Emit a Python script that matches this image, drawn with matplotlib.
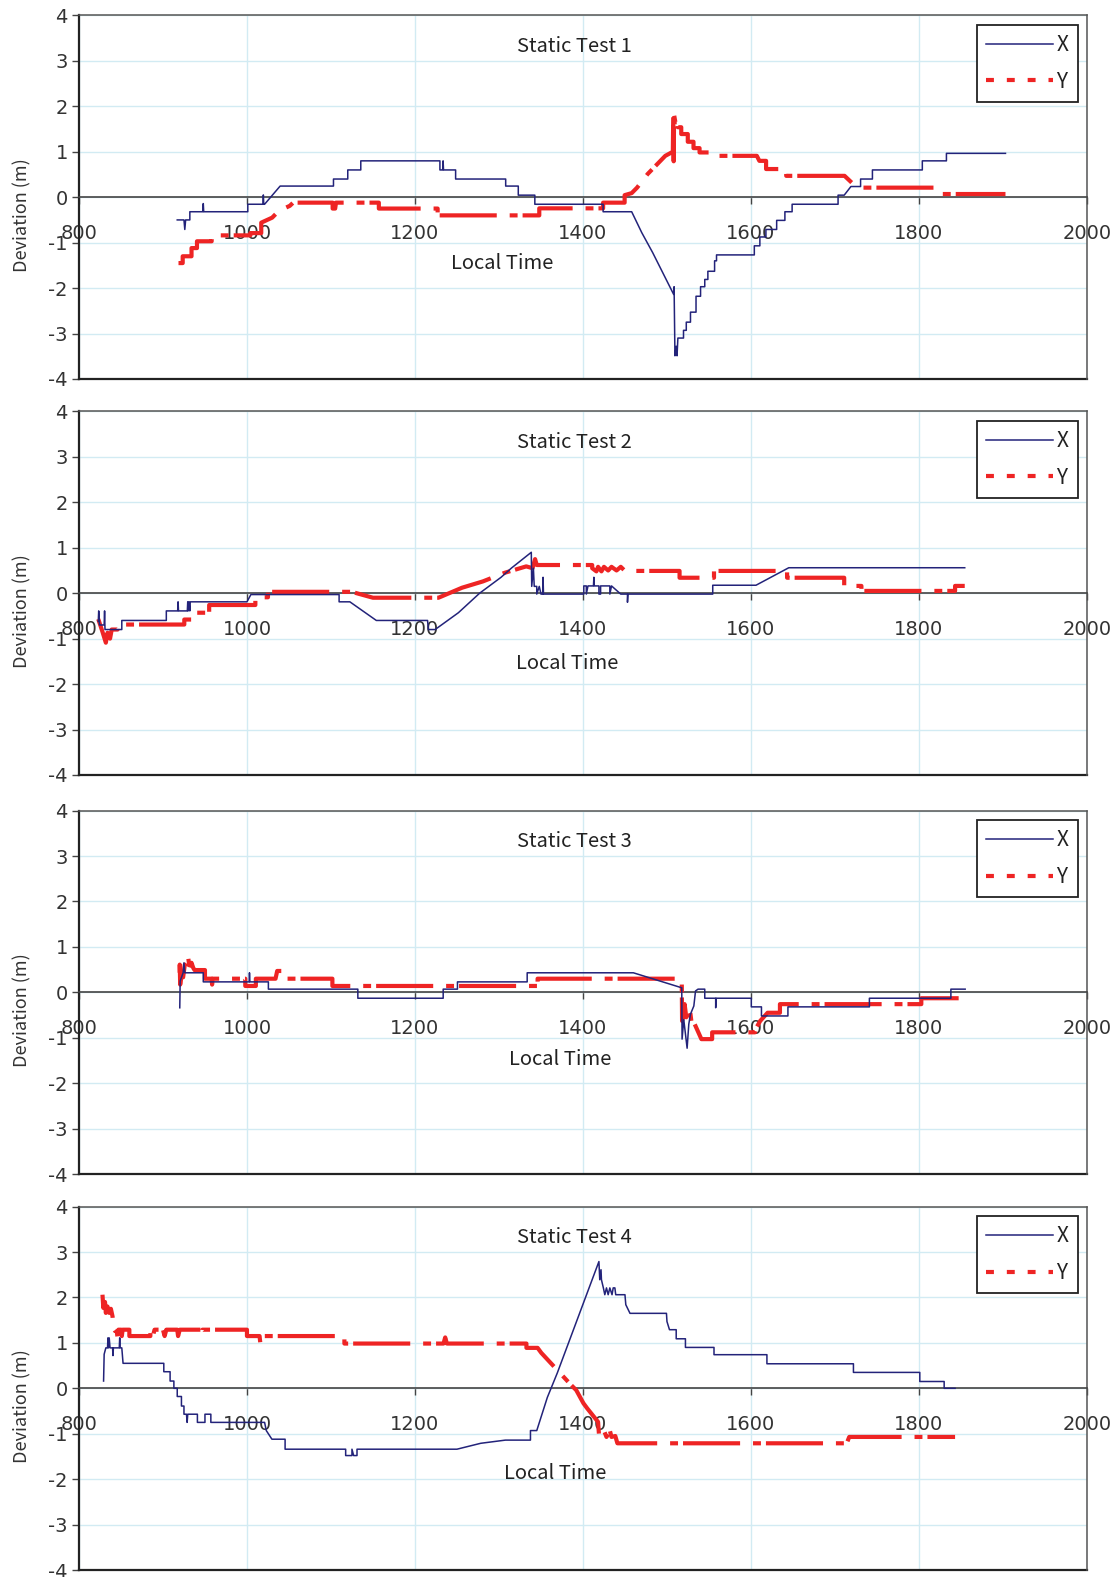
"""Static test deviations (X and Y) against local time, four stacked panels."""

import matplotlib.pyplot as plt
import numpy as np
from matplotlib.lines import Line2D

plt.rcParams["axes.unicode_minus"] = False

TITLES = ["Static Test 1", "Static Test 2", "Static Test 3", "Static Test 4"]
X_TICKS = [800, 1000, 1200, 1400, 1600, 1800, 2000]
Y_TICKS = [-4, -3, -2, -1, 0, 1, 2, 3, 4]

# (local time, deviation in m)
TEST1_X = [
    (917, -0.50), (925, -0.50), (926, -0.71), (927, -0.50), (932, -0.50),
    (932, -0.32), (947.5, -0.32), (948, -0.14), (948.5, -0.32), (1001, -0.32),
    (1001, -0.155), (1019, -0.155), (1019.5, 0.05), (1020, -0.155),
    (1021, -0.155), (1039.5, 0.245), (1103, 0.245), (1103, 0.40), (1120, 0.40),
    (1120, 0.60), (1135.5, 0.60), (1135.5, 0.80), (1229.7, 0.80), (1229.7, 0.60),
    (1233, 0.60), (1233.5, 0.80), (1234, 0.60), (1248.4, 0.60), (1248.4, 0.40),
    (1308, 0.40), (1308, 0.245), (1323, 0.245), (1323, 0.045), (1342.7, 0.045),
    (1342.7, -0.155), (1424, -0.155), (1424, -0.32), (1458, -0.32),
    (1470, -0.78), (1483, -1.22), (1508, -2.14), (1508.5, -1.97),
    (1509.5, -3.49), (1511, -3.28), (1512, -3.49), (1513, -3.10),
    (1519.7, -3.10), (1519.7, -2.93), (1523, -2.93), (1523, -2.75),
    (1528, -2.75), (1528, -2.53), (1534.6, -2.53), (1534.6, -2.18),
    (1540, -2.18), (1540, -1.97), (1545, -1.97), (1545, -1.81),
    (1548.7, -1.81), (1548.7, -1.63), (1556.7, -1.63), (1556.7, -1.40),
    (1559, -1.40), (1559, -1.27), (1604, -1.27), (1604, -1.07),
    (1610.6, -1.07), (1610.6, -0.875), (1617.8, -0.875), (1617.8, -0.71),
    (1630.6, -0.71), (1630.6, -0.51), (1640.4, -0.51), (1640.4, -0.32),
    (1649, -0.32), (1649, -0.155), (1703.7, -0.155), (1703.7, 0.045),
    (1711, 0.045), (1719, 0.235), (1730.5, 0.235), (1730.5, 0.40),
    (1744.6, 0.40), (1744.6, 0.60), (1804, 0.60), (1804, 0.80),
    (1832.7, 0.80), (1832.7, 0.965), (1903, 0.965),
]
TEST1_Y = [
    (918.5, -1.45), (923.5, -1.45), (923.5, -1.30), (934, -1.30), (934, -1.12),
    (940.5, -1.12), (940.5, -0.97), (958, -0.97), (958, -0.84), (1004, -0.84),
    (1004, -0.79), (1017, -0.79), (1017, -0.56), (1030, -0.45), (1038, -0.30),
    (1051, -0.19), (1055, -0.12), (1102, -0.12), (1102, -0.25), (1105, -0.25),
    (1106, -0.12), (1157, -0.12), (1157, -0.25), (1227, -0.25), (1227, -0.40),
    (1348, -0.40), (1348, -0.245), (1424, -0.245), (1424, -0.12),
    (1449.6, -0.12), (1449.6, 0.045), (1458, 0.09), (1464.4, 0.21),
    (1477, 0.51), (1498, 0.91), (1507, 1.00), (1507.5, 1.81), (1508, 0.79),
    (1508.5, 1.81), (1510, 1.65), (1513, 1.65), (1513, 1.54), (1517, 1.54),
    (1517, 1.39), (1524.8, 1.39), (1524.8, 1.22), (1531.6, 1.22),
    (1531.6, 1.08), (1538.8, 1.08), (1538.8, 0.985), (1553.7, 0.985),
    (1556, 0.91), (1607, 0.91), (1610, 0.80), (1618, 0.80), (1618, 0.62),
    (1642, 0.62), (1642, 0.47), (1711.4, 0.47), (1720, 0.32), (1733, 0.21),
    (1818, 0.21), (1822.6, 0.07), (1903, 0.07),
]

TEST2_X = [
    (823, -0.62), (823.5, -0.39), (824.5, -0.70), (830, -0.70), (830.5, -0.39),
    (831, -0.80), (851, -0.80), (851, -0.60), (904, -0.60), (904, -0.39),
    (917.5, -0.39), (918, -0.19), (918.5, -0.39), (929, -0.39), (929.5, -0.19),
    (930, -0.39), (931, -0.19), (932, -0.39), (932.5, -0.19), (1000, -0.19),
    (1004.7, -0.03), (1109.7, -0.03), (1109.7, -0.19), (1122.5, -0.19),
    (1154, -0.60), (1215, -0.60), (1216, -0.80), (1224, -0.80),
    (1251.7, -0.43), (1277, 0.0), (1302.5, 0.35), (1315, 0.555),
    (1338.5, 0.90), (1339, 0.15), (1341, 0.55), (1342, 0.15), (1345, 0.15),
    (1345, -0.02), (1348, 0.15), (1350, -0.02), (1352, -0.02), (1352.5, 0.35),
    (1353, -0.02), (1401, -0.02), (1401, 0.16), (1404, 0.16), (1404, -0.02),
    (1406, 0.16), (1412.5, 0.16), (1413, 0.35), (1413.5, 0.16), (1419, 0.16),
    (1419, -0.02), (1421, -0.02), (1421, 0.16), (1432, 0.16), (1432, -0.02),
    (1434, 0.16), (1445, -0.02), (1453, -0.02), (1453, -0.20), (1453.5, -0.02),
    (1554.5, -0.02), (1554.5, 0.175), (1606, 0.175), (1645, 0.56),
    (1854.5, 0.56),
]
TEST2_Y = [
    (823, -0.57), (828, -0.85), (832, -1.09), (834, -0.87), (837, -1.00),
    (839, -0.80), (846, -0.80), (846, -0.69), (925.4, -0.69), (925.4, -0.58),
    (938, -0.58), (938, -0.43), (955, -0.43), (955, -0.26), (1010, -0.26),
    (1010, -0.09), (1025, -0.09), (1025, 0.03), (1124.6, 0.03), (1150, -0.10),
    (1228, -0.10), (1256, 0.12), (1281, 0.26), (1307, 0.45), (1332.5, 0.59),
    (1340, 0.55), (1343, 0.75), (1345, 0.62), (1411, 0.62), (1411, 0.55),
    (1416, 0.48), (1418, 0.58), (1422, 0.48), (1425, 0.58), (1430, 0.50),
    (1434, 0.58), (1440, 0.50), (1445, 0.58), (1450, 0.49), (1515, 0.49),
    (1515, 0.34), (1556, 0.34), (1556, 0.49), (1643, 0.49), (1643, 0.34),
    (1711, 0.34), (1711, 0.16), (1731.5, 0.16), (1731.5, 0.05), (1843, 0.05),
    (1843, 0.16), (1854.5, 0.16),
]

TEST3_X = [
    (920, -0.34), (920.5, 0.25), (924, 0.43), (925, 0.65), (926, 0.43),
    (948, 0.43), (948, 0.23), (1002.6, 0.23), (1003, 0.43), (1003.5, 0.23),
    (1025.5, 0.23), (1025.5, 0.07), (1132, 0.07), (1132, -0.13),
    (1233.6, -0.13), (1233.6, 0.07), (1250.6, 0.07), (1250.6, 0.23),
    (1333.6, 0.23), (1333.6, 0.43), (1460, 0.43), (1517.6, 0.10),
    (1518, -1.03), (1520, -0.60), (1524, -1.23), (1526, -0.70), (1528, -0.48),
    (1532, -0.30), (1534, 0.03), (1537, 0.07), (1545, 0.07), (1545, -0.13),
    (1558, -0.13), (1558, -0.34), (1558.5, -0.13), (1600.4, -0.13),
    (1600.4, -0.32), (1612.5, -0.32), (1612.5, -0.52), (1644, -0.52),
    (1644, -0.32), (1741, -0.32), (1741, -0.13), (1838, -0.13), (1838, 0.07),
    (1855, 0.07),
]
TEST3_Y = [
    (920, 0.43), (920, 0.61), (920.5, 0.17), (922, 0.40), (924, 0.33),
    (926, 0.61), (928, 0.55), (930, 0.77), (932, 0.50), (934, 0.65),
    (936, 0.54), (937.6, 0.49), (950, 0.49), (950, 0.30), (958, 0.30),
    (958.5, 0.17), (959, 0.30), (998, 0.30), (998, 0.14), (1010.6, 0.14),
    (1010.6, 0.30), (1034, 0.30), (1036, 0.47), (1044.6, 0.47), (1046, 0.30),
    (1101.7, 0.30), (1101.7, 0.14), (1346, 0.14), (1346, 0.30),
    (1517.6, 0.30), (1518, -0.63), (1521, -0.26), (1523, -0.55),
    (1527, -0.33), (1529, -0.63), (1533, -0.70), (1541, -1.03),
    (1553.8, -1.03), (1553.8, -0.88), (1604.9, -0.88), (1607, -0.76),
    (1611, -0.63), (1619.8, -0.45), (1634.5, -0.45), (1634.5, -0.26),
    (1802.8, -0.26), (1802.8, -0.13), (1855, -0.13),
]

TEST4_X = [
    (829.3, 0.16), (830, 0.75), (832, 0.89), (834, 0.89), (834.5, 1.11),
    (835, 0.89), (836, 1.11), (837, 0.89), (840, 0.89), (840.5, 0.72),
    (841, 0.89), (848, 0.89), (848.5, 1.11), (849, 0.89), (851, 0.89),
    (852.5, 0.55), (901, 0.55), (901, 0.365), (908.5, 0.365), (908.5, 0.16),
    (913, 0.16), (913, 0.0), (917, 0.0), (917, -0.18), (922, -0.18),
    (922, -0.39), (925, -0.39), (925, -0.57), (928, -0.57), (928.8, -0.75),
    (929.5, -0.57), (941, -0.57), (941, -0.75), (950, -0.75), (950, -0.57),
    (957, -0.57), (957, -0.75), (1021, -0.75), (1023, -0.93), (1029.7, -1.12),
    (1045.4, -1.12), (1045.4, -1.34), (1117.5, -1.34), (1117.5, -1.48),
    (1125, -1.48), (1125, -1.34), (1127, -1.48), (1131, -1.48), (1131, -1.34),
    (1250, -1.34), (1278.3, -1.21), (1307.7, -1.14), (1337.5, -1.14),
    (1337.5, -0.93), (1345, -0.93), (1357.6, -0.20), (1369.5, 0.34),
    (1419, 2.79), (1420, 2.39), (1421.5, 2.61), (1422, 2.39), (1424.3, 2.21),
    (1426, 2.06), (1428, 2.21), (1430, 2.06), (1432, 2.21), (1434.6, 2.06),
    (1436, 2.21), (1438, 2.21), (1439, 2.06), (1450, 2.06), (1451, 1.84),
    (1456, 1.65), (1499.4, 1.65), (1500, 1.47), (1503, 1.29), (1511, 1.29),
    (1511, 1.09), (1522, 1.09), (1522, 0.90), (1556, 0.90), (1556, 0.74),
    (1619, 0.74), (1619, 0.54), (1722, 0.54), (1722, 0.35), (1801, 0.35),
    (1801, 0.15), (1830, 0.15), (1830, 0.0), (1843, 0.0),
]
TEST4_Y = [
    (828, 2.06), (829, 1.77), (831, 1.90), (832, 1.66), (834, 1.80),
    (836, 1.66), (838, 1.75), (840, 1.58), (840.7, 1.33), (843, 1.26),
    (845, 1.26), (846, 1.11), (847, 1.29), (850, 1.29), (851, 1.15),
    (852, 1.29), (860, 1.29), (860, 1.15), (885, 1.15), (885, 1.29),
    (888, 1.15), (890, 1.29), (900, 1.29), (902, 1.15), (904, 1.29),
    (917, 1.29), (918, 1.15), (920, 1.29), (945, 1.29), (946, 1.15),
    (947, 1.29), (1000, 1.29), (1000, 1.15), (1015, 1.15), (1016, 0.98),
    (1017, 1.15), (1116, 1.15), (1116, 0.985), (1234, 0.985), (1236, 1.12),
    (1238, 0.985), (1332.7, 0.985), (1332.7, 0.89), (1346, 0.89),
    (1350.4, 0.78), (1365, 0.49), (1386, 0.07), (1392, -0.04),
    (1400.6, -0.33), (1405, -0.44), (1418, -0.74), (1419, -1.00),
    (1420, -1.07), (1425, -0.93), (1428, -1.07), (1432, -0.93), (1434, -1.07),
    (1438.5, -1.05), (1441, -1.21), (1714, -1.21), (1717, -1.07),
    (1843, -1.07),
]

X_SERIES = [TEST1_X, TEST2_X, TEST3_X, TEST4_X]
Y_SERIES = [TEST1_Y, TEST2_Y, TEST3_Y, TEST4_Y]

# layout
AX_LEFT = 0.0705
AX_WIDTH = 0.90
AX_HEIGHT = 0.2305
AX_BOTTOMS = [0.7597, 0.5086, 0.2555, 0.0044]
LOCAL_TIME_POS = [(1304, -1.47), (1381, -1.55), (1373, -1.47), (1367, -1.88)]

NAVY = "#23237a"
RED = "#ee2424"
GRID = "#d2ebf3"
TEXT = "#333333"
LABEL_FONT = ["Noto Sans CJK KR", "DejaVu Sans"]
Y_DASHES = (13.7, 3.1, 1.9, 1.2)
LEGEND_DASHES = (1.9, 3.1)


def draw_panel(ax, title, x_points, y_points, local_time_pos):
    ax.set_xlim(800, 2000)
    ax.set_ylim(-4, 4)
    ax.set_xticks(X_TICKS)
    ax.set_yticks(Y_TICKS)
    ax.grid(True, color=GRID, linewidth=1.0)
    ax.set_axisbelow(True)

    # x axis sits on the zero line, the frame still closes at -4
    ax.spines["bottom"].set_position(("data", 0))
    ax.spines["bottom"].set_color("#444444")
    ax.spines["bottom"].set_linewidth(1.2)
    ax.spines["left"].set_color("#222222")
    ax.spines["left"].set_linewidth(1.6)
    for side in ("top", "right"):
        ax.spines[side].set_color("#555555")
        ax.spines[side].set_linewidth(1.1)
    ax.plot([0, 1], [0, 0], transform=ax.transAxes, color="#222222",
            linewidth=1.6, clip_on=False)

    ax.tick_params(axis="x", direction="out", length=5, width=1,
                   colors="#444444", labelcolor=TEXT, labelsize=14, pad=14)
    ax.tick_params(axis="y", direction="out", length=5, width=1,
                   colors="#444444", labelcolor=TEXT, labelsize=14, pad=3)

    y_arr = np.array(y_points)
    x_arr = np.array(x_points)
    ax.plot(y_arr[:, 0], y_arr[:, 1], color=RED, linewidth=3,
            linestyle=(0, Y_DASHES), zorder=3)
    ax.plot(x_arr[:, 0], x_arr[:, 1], color=NAVY, linewidth=1.1, zorder=4)

    ax.text(0.4915, 0.915, title, transform=ax.transAxes, ha="center",
            va="center", fontsize=14.5, color="#222222", family=LABEL_FONT)
    ax.text(local_time_pos[0], local_time_pos[1], "Local Time", ha="center",
            va="center", fontsize=14.5, color="#222222", family=LABEL_FONT)

    ax.set_ylabel("Deviation (m)", fontsize=13, color=TEXT, family=LABEL_FONT)
    ax.yaxis.set_label_coords(-0.047, 0.45)

    handles = [
        Line2D([], [], color=NAVY, linewidth=1.1),
        Line2D([], [], color=RED, linewidth=3, linestyle=(0, LEGEND_DASHES)),
    ]
    legend = ax.legend(
        handles, ["X", "Y"], loc="upper right",
        prop={"family": LABEL_FONT, "size": 15},
        handlelength=3.2, handletextpad=0.15, labelspacing=0.7,
        borderpad=0.45, borderaxespad=0.45, fancybox=False,
        edgecolor="#222222", framealpha=1,
    )
    legend.get_frame().set_linewidth(1.3)
    for text in legend.get_texts():
        text.set_color("#222222")


def main():
    fig = plt.figure(figsize=(11.2, 15.77), dpi=100)
    for i, bottom in enumerate(AX_BOTTOMS):
        ax = fig.add_axes([AX_LEFT, bottom, AX_WIDTH, AX_HEIGHT])
        draw_panel(ax, TITLES[i], X_SERIES[i], Y_SERIES[i], LOCAL_TIME_POS[i])
    fig.savefig("out.png", dpi=100)


if __name__ == "__main__":
    main()
